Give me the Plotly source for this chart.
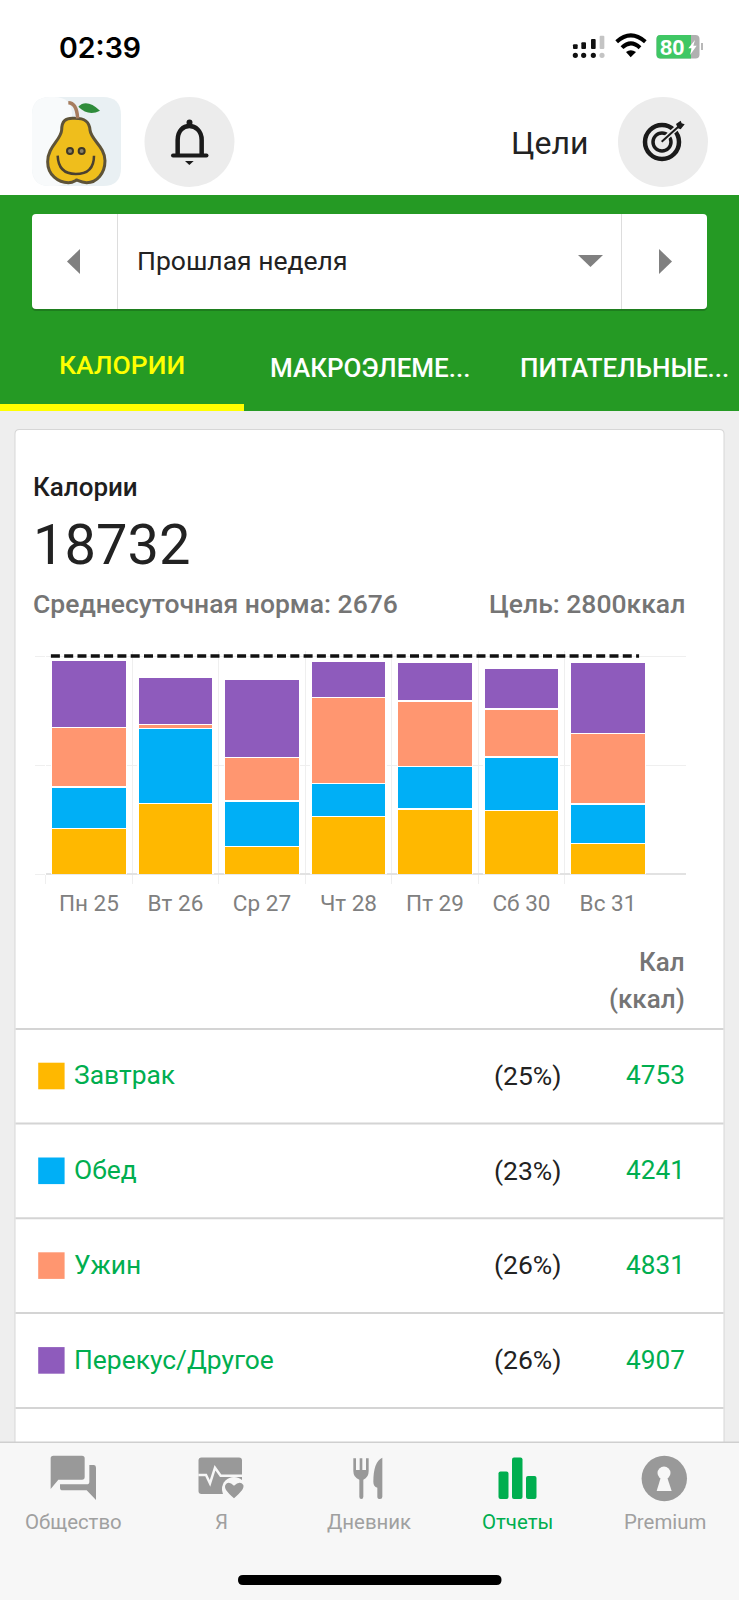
import re

import plotly.graph_objects as go

W, H = 739, 1600

# === DATA
days = ["Пн 25", "Вт 26", "Ср 27", "Чт 28", "Пт 29", "Сб 30", "Вс 31"]
breakfast = [585, 910, 355, 739, 838, 816, 397]
lunch = [534, 957, 585, 423, 543, 688, 504]
dinner = [761, 51, 556, 1103, 842, 615, 902]
snack = [859, 611, 1004, 462, 496, 521, 919]
goal = 2800
y_ticks = [0, 1400, 2800]

meal_names = ["Завтрак", "Обед", "Ужин", "Перекус/Другое"]
meal_pct = ["(25%)", "(23%)", "(26%)", "(26%)"]
meal_kcal = ["4753", "4241", "4831", "4907"]
meal_colors = ["#FFB800", "#00AFF6", "#FF9670", "#8E5BBC"]

nav_labels = ["Общество", "Я", "Дневник", "Отчеты", "Premium"]

GREEN = "#259A24"
TEXT_GREEN = "#00AE4F"
ICON_GRAY = "#999999"
GRID = "#EFEFEF"


# === HELPERS (everything below is in screen pixels)
def fx(x):
    return x / W


def fy(y):
    return 1 - y / H


def pth(s, ox=0, oy=0, k=1):
    nums = iter(range(100000))

    def conv(m):
        v = float(m.group(0))
        if next(nums) % 2 == 0:
            return f"{fx(ox + v / k):.5f}"
        return f"{fy(oy + v / k):.5f}"

    return re.sub(r"-?\d+\.?\d*", conv, s)


shapes = []
annotations = []


def path(s, fill=None, line=None, lw=0, ox=0, oy=0, k=1):
    shapes.append(dict(type="path", xref="paper", yref="paper", path=pth(s, ox, oy, k),
                       fillcolor=fill or "rgba(0,0,0,0)",
                       line=dict(color=line or "rgba(0,0,0,0)", width=lw), layer="below"))


def rect(x0, y0, x1, y1, fill):
    shapes.append(dict(type="rect", xref="paper", yref="paper", x0=fx(x0), x1=fx(x1),
                       y0=fy(y0), y1=fy(y1), fillcolor=fill, line_width=0, layer="below"))


def rrect(x0, y0, x1, y1, r, fill):
    path(f"M {x0 + r},{y0} L {x1 - r},{y0} Q {x1},{y0} {x1},{y0 + r} L {x1},{y1 - r} "
         f"Q {x1},{y1} {x1 - r},{y1} L {x0 + r},{y1} Q {x0},{y1} {x0},{y1 - r} "
         f"L {x0},{y0 + r} Q {x0},{y0} {x0 + r},{y0} Z", fill=fill)


def circle(cx, cy, r, fill=None, line=None, lw=0):
    shapes.append(dict(type="circle", xref="paper", yref="paper", x0=fx(cx - r), x1=fx(cx + r),
                       y0=fy(cy + r), y1=fy(cy - r), fillcolor=fill or "rgba(0,0,0,0)",
                       line=dict(color=line or "rgba(0,0,0,0)", width=lw), layer="below"))


def text(x, y, s, size, color, anchor="left", weight=400, family="Roboto"):
    annotations.append(dict(x=fx(x), y=fy(y), xref="paper", yref="paper", text=s, showarrow=False,
                            xanchor=anchor, yanchor="middle", borderpad=0,
                            font=dict(size=size, color=color, family=family, weight=weight)))


# === PAGE BACKGROUND, HEADER, TABS
rect(0, 0, W, 195, "#FFFFFF")
rect(0, 195, W, 411, GREEN)
rect(0, 411, W, H, "#EEEEEE")
rect(0, 404, 244, 411, "#FFFF00")

# selector
rrect(32, 216, 707, 311, 4, "#1E7D1E")
rrect(32, 214, 707, 309, 4, "#FFFFFF")
rect(117, 214, 118, 309, "#DDDDDD")
rect(621, 214, 622, 309, "#DDDDDD")
path("M 80,249 L 80,274 L 67,261.5 Z", fill="#808080")
path("M 659,249 L 659,274 L 672,261.5 Z", fill="#808080")
path("M 578,255 L 603,255 L 590.5,267 Z", fill="#808080")
text(136, 260.5, "Прошлая неделя", 26.5, "#222222")

text(121.5, 364, "КАЛОРИИ", 26.5, "#FFFF00", "center", 500)
text(268.5, 368, "МАКРОЭЛЕМЕ...", 26, "#FFFFFF", "left", 500)
text(518.5, 368, "ПИТАТЕЛЬНЫЕ...", 26, "#FFFFFF", "left", 500)

# status bar
text(57.5, 47, "02:39", 28.5, "#000000", "left", 600, "Inter")
for cx, top, col in [(46, 58, "#111111"), (71, 52, "#111111"), (100, 42, "#111111"), (126, 32, "#C4C4C4")]:
    rrect(560 + (cx - 7) / 3, 25 + top / 3, 560 + (cx + 7) / 3, 25 + 72 / 3, 1, col)
    circle(560 + cx / 3, 25 + 91 / 3, 2.6, fill=col)
path("M 170,50 Q 212,12 256,50", line="#000000", lw=4, ox=560, oy=25, k=3)
path("M 186,68 Q 212,42 240,68", line="#000000", lw=4, ox=560, oy=25, k=3)
path("M 198,81 Q 212,70 228,81 L 212,97 Z", fill="#000000", ox=560, oy=25, k=3)
rrect(656.5, 35, 699.5, 58.5, 4, "#B0B0B0")
path("M 660.5,35 L 691,35 L 691,58.5 L 660.5,58.5 Q 656.5,58.5 656.5,54.5 L 656.5,39 Q 656.5,35 660.5,35 Z",
     fill="#3FC764")
rect(701, 43, 703, 50, "#B8B8B8")
text(672, 47, "80", 22, "#FFFFFF", "center", 700, "Liberation Sans")
path("M 405,45 L 385,70 L 395,70 L 390,90 L 410,62 L 400,62 Z", fill="#FFFFFF", ox=560, oy=25, k=3)

# pear logo
O = dict(ox=25, oy=90, k=3)
rrect(32, 97, 121, 186, 18, "#E9F0F3")
rrect(32, 97, 72, 186, 18, "#F8FAFB")
path("M 150,85 C 120,82 110,95 110,120 C 108,150 68,170 68,215 C 68,255 100,278 130,278 "
     "C 145,278 150,272 155,270 C 160,272 170,278 185,278 C 215,278 240,250 240,212 "
     "C 240,170 198,150 195,120 C 193,95 180,85 150,85 Z", fill="#EFBE1C", line="#5E5338", lw=3, **O)
path("M 130,38 Q 155,38 158,85", line="#A67C5E", lw=3.5, **O)
path("M 160,50 Q 185,25 225,62 Q 190,80 160,50 Z", fill="#2E8B3A", **O)
path("M 98,197 Q 100,252 152,252 Q 207,252 207,197", line="#4A4030", lw=2.5, **O)
for ex in (135, 170):
    circle(25 + ex / 3, 90 + 183 / 3, 3, fill="#8A8268", line="#3F3828", lw=2)

# bell
circle(189.5, 142, 45, fill="#ECECEC")
O = dict(ox=25, oy=90, k=3)
path("M 458,195 L 458,150 C 458,122 475,108 493,108 C 511,108 530,122 530,150 L 530,195",
     line="#1A1A1A", lw=4.5, **O)
rrect(171, 153.5, 208.5, 157.5, 2, "#1A1A1A")
circle(189.5, 122.5, 3, fill="#1A1A1A")
path("M 480,213 L 506,213 L 493,225 Z", fill="#1A1A1A", **O)

# goals
text(509.5, 143, "Цели", 32, "#222222")
circle(663, 142, 45, fill="#ECECEC")
circle(662, 142, 17, line="#1A1A1A", lw=4.5)
circle(662, 142, 9, line="#1A1A1A", lw=3.5)
O = dict(ox=610, oy=90, k=3)
path("M 155,155 L 218,98", line="#ECECEC", lw=5, **O)
path("M 155,155 L 205,110", line="#1A1A1A", lw=2, **O)
path("M 198,102 L 212,92 L 215,100 L 224,103 L 212,118 L 204,115 Z", fill="#1A1A1A", **O)

# === CARD
rrect(14.5, 429, 724.5, 1460, 5, "#D6D6D6")
rrect(15.5, 430, 723.5, 1460, 4, "#FFFFFF")
text(32, 486.5, "Калории", 26, "#1E1E1E", "left", 500)
text(32, 544.5, "18732", 56, "#222222")
text(31.5, 604, "Среднесуточная норма: 2676", 26.5, "#757575", "left", 500)
text(685.5, 604, "Цель: 2800ккал", 26.5, "#757575", "right", 500)
text(685.5, 961.5, "Кал", 26, "#757575", "right", 500)
text(685.5, 998.5, "(ккал)", 26, "#757575", "right", 500)

# === TABLE
row_h = 94.8
rect(15.5, 1028, 723.5, 1030, "#D4D4D4")
for i, name in enumerate(meal_names):
    yc = 1076 + i * row_h
    rect(15.5, 1122.5 + i * row_h, 723.5, 1124.5 + i * row_h, "#D4D4D4")
    rect(38.2, yc - 13.3, 64.6, yc + 13.3, meal_colors[i])
    text(73, yc - 0.7, name, 26.4, TEXT_GREEN)
    text(563, yc - 0.7, meal_pct[i], 26.5, "#222222", "right")
    text(686, yc - 0.7, meal_kcal[i], 26.2, TEXT_GREEN, "right")

# === BOTTOM NAV
rect(0, 1442, W, H, "#F7F7F7")
rect(0, 1441.5, W, 1443, "#CFCFCF")
nav_x = [73, 221.5, 368.5, 517, 664.5]
for i, label in enumerate(nav_labels):
    text(nav_x[i], 1522, label, 20.4, TEXT_GREEN if label == "Отчеты" else "#A0A0A0", "center")

O = dict(ox=30, oy=1445, k=3)
path("M 62,40 Q 62,32 70,32 L 156,32 Q 164,32 164,40 L 164,96 Q 164,104 156,104 L 85,104 L 62,132 Z",
     fill=ICON_GRAY, **O)
path("M 178,60 L 192,60 Q 198,60 198,68 L 198,165 L 170,136 L 98,136 Q 90,136 90,128 L 90,118 "
     "L 170,118 Q 178,118 178,110 Z", fill=ICON_GRAY, **O)
rrect(198.5, 1457.5, 242, 1494, 3, ICON_GRAY)
path("M 505,90 L 528,90 L 540,115 L 555,68 L 572,92 L 636,92", line="#F7F7F7", lw=2.5, **O)
circle(234, 1489, 12, fill="#F7F7F7")
path("M 612,160 C 590,140 582,130 586,120 Q 595,106 612,122 Q 630,106 640,120 C 643,130 634,140 612,160 Z",
     fill=ICON_GRAY, **O)

O = dict(ox=340, oy=1445, k=3)
path("M 40,40 L 48,40 L 48,75 L 59,75 L 59,40 L 67,40 L 67,75 L 78,75 L 78,40 L 86,40 L 86,78 "
     "Q 86,98 70,104 L 70,155 Q 70,162 64,162 Q 58,162 58,155 L 58,104 Q 40,98 40,78 Z", fill=ICON_GRAY, **O)
path("M 127,38 Q 100,50 100,110 Q 100,125 112,128 L 112,155 Q 112,162 120,162 Q 127,162 127,155 Z",
     fill=ICON_GRAY, **O)
for x0, x1, top in [(498.5, 508.5, 1471.5), (512, 522.5, 1457.5), (526, 536.5, 1476)]:
    rrect(x0, top, x1, 1499, 2, TEXT_GREEN)
circle(664.3, 1478.5, 22.7, fill=ICON_GRAY)
circle(664, 1473, 6.5, fill="#F7F7F7")
path("M 963,95 L 981,95 L 995,138 L 950,138 Z", fill="#F7F7F7", **O)

rrect(238, 1575, 501.5, 1585, 5, "#000000")

# === CHART
fig = go.Figure()
series = [breakfast, lunch, dinner, snack]
x_pos = list(range(len(days)))
for name, values, color in zip(meal_names, series, meal_colors):
    fig.add_trace(go.Bar(x=x_pos, y=values, name=name, marker_color=color,
                         marker_line=dict(color="#FFFFFF", width=1.4), showlegend=False))
fig.add_trace(go.Scatter(x=[-0.44, 6.36], y=[goal, goal], mode="lines", showlegend=False,
                         line=dict(color="#111111", width=3.5, dash="9px,4.3px")))

band = 86.5
x_left, x_right = 45.7, 686
y_base, y_goal, y_top = 874.3, 656, 650.5

fig.update_layout(
    width=W, height=H, margin=dict(l=0, r=0, t=0, b=0), autosize=False,
    paper_bgcolor="#FFFFFF", plot_bgcolor="rgba(0,0,0,0)",
    barmode="stack", bargap=0.135, hovermode=False,
    shapes=shapes, annotations=annotations,
    xaxis=dict(
        domain=[fx(x_left), fx(x_right)],
        range=[-0.5, (x_right - x_left) / band - 0.5],
        tickvals=x_pos, ticktext=days,
        ticks="outside", ticklen=9, tickcolor="rgba(0,0,0,0)",
        tickfont=dict(family="Roboto", size=22.5, color="#808080"),
        showgrid=False, zeroline=False, showline=False,
        minor=dict(tickvals=[p - 0.5 for p in x_pos], ticks="outside", ticklen=9, tickcolor=GRID,
                   showgrid=True, gridcolor=GRID, gridwidth=1),
    ),
    yaxis=dict(
        domain=[fy(y_base), fy(y_top)],
        range=[0, goal * (y_base - y_top) / (y_base - y_goal)],
        tickvals=y_ticks, showticklabels=False,
        ticks="outside", ticklen=10, tickcolor=GRID,
        showgrid=True, gridcolor=GRID, gridwidth=1,
        zeroline=True, zerolinecolor="#E2E2E2", zerolinewidth=2,
    ),
)

# the page's default body margin would shift everything by 8px
fig.write_html("out.html", config={"displayModeBar": False},
               post_script="document.body.style.margin='0';")
